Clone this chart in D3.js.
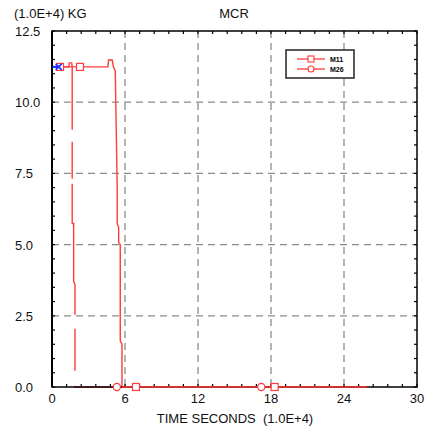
<!DOCTYPE html>
<html>
<head>
<meta charset="utf-8">
<script src="https://cdn.jsdelivr.net/npm/d3@7"></script>
<style>
  html, body { margin: 0; padding: 0; background: #fff; }
  svg { display: block; font-family: "Liberation Sans", Arial, sans-serif; }
</style>
</head>
<body>
<svg id="chart" width="428" height="432"></svg>
<script>
// Tick values and labels
const xTicks = [0, 6, 12, 18, 24, 30];
const xTickLabels = ["0", "6", "12", "18", "24", "30"];
const yTicks = [0, 2.5, 5, 7.5, 10, 12.5];
const yTickLabels = ["0.0", "2.5", "5.0", "7.5", "10.0", "12.5"];

// Series (time in 1.0E+4 s, mass in 1.0E+4 kg)
const seriesNames = ["M11", "M26"];
const m11X = [0, 4.6, 4.65, 4.95, 5.05, 5.2, 5.36, 5.36, 5.48, 5.48, 5.61, 5.61, 5.75, 5.75, 25.9];
const m11Y = [11.24, 11.24, 11.48, 11.48, 11.24, 11.1, 7.0, 5.74, 5.6, 5.08, 5.0, 1.62, 1.5, 0, 0];
const m11MarkX = [0.66, 2.3, 6.9, 18.3];
const m11MarkY = [11.24, 11.24, 0, 0];

const m26X = [0, 1.38, 1.42, 1.62, 1.66, 1.66, 1.78, 1.78, 1.89, 1.89, 25.9];
const m26Y = [11.24, 11.24, 11.38, 11.38, 11.24, 5.74, 5.74, 3.7, 3.6, 0, 0];
const m26MarkX = [5.33, 17.2];
const m26MarkY = [0, 0];

// Short reference trace at the start
const refX = [0.05, 0.55];
const refY = [11.24, 11.24];

const svg = d3.select("#chart");
const pLeft = 52, pRight = 417, pTop = 31, pBottom = 387;

const x = d3.scaleLinear().domain([0, 30]).range([pLeft, pRight]);
const y = d3.scaleLinear().domain([0, 12.5]).range([pBottom, pTop]);

const red = "#ff3b3b";

// Grid (dashed) at interior major ticks
const grid = svg.append("g");
grid.selectAll("line.vx").data(xTicks.slice(1, -1)).join("line")
  .attr("x1", d => x(d)).attr("x2", d => x(d))
  .attr("y1", pTop).attr("y2", pBottom)
  .attr("stroke", "#8c8c8c").attr("stroke-width", 1.3)
  .attr("stroke-dasharray", "7,5");
grid.selectAll("line.hy").data(yTicks.slice(1, -1)).join("line")
  .attr("x1", pLeft).attr("x2", pRight)
  .attr("y1", d => y(d)).attr("y2", d => y(d))
  .attr("stroke", "#8c8c8c").attr("stroke-width", 1.3)
  .attr("stroke-dasharray", "7,5");

// Minor ticks on all four sides, pointing inward
const xMinor = d3.range(0, 30.001, 1.2);
const yMinor = d3.range(0, 12.501, 0.5);
const axisG = svg.append("g").attr("stroke", "#000").attr("stroke-width", 1.2);
axisG.selectAll("line.bt").data(xMinor).join("line")
  .attr("x1", d => x(d)).attr("x2", d => x(d)).attr("y1", pBottom).attr("y2", pBottom - 3);
axisG.selectAll("line.tt").data(xMinor).join("line")
  .attr("x1", d => x(d)).attr("x2", d => x(d)).attr("y1", pTop).attr("y2", pTop + 3);
axisG.selectAll("line.lt").data(yMinor).join("line")
  .attr("x1", pLeft).attr("x2", pLeft + 3).attr("y1", d => y(d)).attr("y2", d => y(d));
axisG.selectAll("line.rt").data(yMinor).join("line")
  .attr("x1", pRight).attr("x2", pRight - 3).attr("y1", d => y(d)).attr("y2", d => y(d));

// Series lines
const line = d3.line().x(d => x(d[0])).y(d => y(d[1]));
const m11 = m11X.map((v, i) => [v, m11Y[i]]);
const m26 = m26X.map((v, i) => [v, m26Y[i]]);

// M26 uses a broken long-dash style
svg.append("path").datum(m26).attr("d", line)
  .attr("fill", "none").attr("stroke", red).attr("stroke-width", 1.4)
  .attr("stroke-dasharray", "90,12,37,5,133,14,42,15,600");
svg.append("path").datum(m11).attr("d", line)
  .attr("fill", "none").attr("stroke", red).attr("stroke-width", 1.4);

// Frame
svg.append("rect").attr("x", pLeft).attr("y", pTop)
  .attr("width", pRight - pLeft).attr("height", pBottom - pTop)
  .attr("fill", "none").attr("stroke", "#000").attr("stroke-width", 1.5);
svg.append("line").attr("x1", pLeft).attr("x2", pLeft).attr("y1", pTop).attr("y2", pBottom)
  .attr("stroke", "#000").attr("stroke-width", 2);

// Redraw the bottom stretch of the series on top of the frame
svg.append("path").datum(m11.filter(d => d[1] === 0)).attr("d", line)
  .attr("fill", "none").attr("stroke", red).attr("stroke-width", 1.4);

// Markers
const mk = svg.append("g").attr("fill", "none").attr("stroke", red).attr("stroke-width", 1.2);
mk.selectAll("rect").data(m11MarkX.map((v, i) => [v, m11MarkY[i]])).join("rect")
  .attr("x", d => x(d[0]) - 3.5).attr("y", d => y(d[1]) - 3.5)
  .attr("width", 7).attr("height", 7).attr("fill", "#fff");
mk.selectAll("circle").data(m26MarkX.map((v, i) => [v, m26MarkY[i]])).join("circle")
  .attr("cx", d => x(d[0])).attr("cy", d => y(d[1])).attr("r", 3.6).attr("fill", "#fff");

// Blue reference trace with cross marker
const ref = refX.map((v, i) => [v, refY[i]]);
svg.append("path").datum(ref).attr("d", line)
  .attr("fill", "none").attr("stroke", "#2233ff").attr("stroke-width", 2.2);
const rc = ref[1];
svg.append("path")
  .attr("d", `M${x(rc[0]) - 3},${y(rc[1]) - 3}L${x(rc[0]) + 3},${y(rc[1]) + 3}M${x(rc[0]) - 3},${y(rc[1]) + 3}L${x(rc[0]) + 3},${y(rc[1]) - 3}`)
  .attr("stroke", "#2233ff").attr("stroke-width", 1.6);

// Tick labels
svg.append("g").selectAll("text").data(xTicks).join("text")
  .attr("x", d => x(d)).attr("y", pBottom + 16)
  .attr("text-anchor", "middle").attr("font-size", 13).attr("fill", "#111")
  .text((d, i) => xTickLabels[i]);
svg.append("g").selectAll("text").data(yTicks).join("text")
  .attr("x", 15).attr("y", d => y(d) + 5)
  .attr("text-anchor", "start").attr("font-size", 13).attr("fill", "#111")
  .text((d, i) => yTickLabels[i]);

// Titles
svg.append("text").attr("x", 14).attr("y", 18).attr("font-size", 13).attr("fill", "#111")
  .text("(1.0E+4) KG");
svg.append("text").attr("x", 234).attr("y", 18).attr("text-anchor", "middle")
  .attr("font-size", 13).attr("fill", "#111").text("MCR");
svg.append("text").attr("x", 235).attr("y", 423).attr("text-anchor", "middle")
  .attr("font-size", 13).attr("fill", "#111").attr("xml:space", "preserve")
  .text("TIME SECONDS  (1.0E+4)");

// Legend
const lg = svg.append("g");
lg.append("rect").attr("x", 286).attr("y", 50).attr("width", 68).attr("height", 28)
  .attr("fill", "#fff").attr("stroke", "#222").attr("stroke-width", 1.5);
seriesNames.forEach((name, i) => {
  const ly = 59 + i * 10;
  lg.append("line").attr("x1", 297).attr("x2", 325).attr("y1", ly).attr("y2", ly)
    .attr("stroke", red).attr("stroke-width", 1.3);
  if (i === 0) {
    lg.append("rect").attr("x", 308).attr("y", ly - 3).attr("width", 6).attr("height", 6)
      .attr("fill", "#fff").attr("stroke", red).attr("stroke-width", 1.1);
  } else {
    lg.append("circle").attr("cx", 311).attr("cy", ly).attr("r", 3)
      .attr("fill", "#fff").attr("stroke", red).attr("stroke-width", 1.1);
  }
  lg.append("text").attr("x", 330).attr("y", ly + 2.5).attr("font-size", 7)
    .attr("font-weight", "bold").attr("fill", "#000").text(name);
});
</script>
</body>
</html>
